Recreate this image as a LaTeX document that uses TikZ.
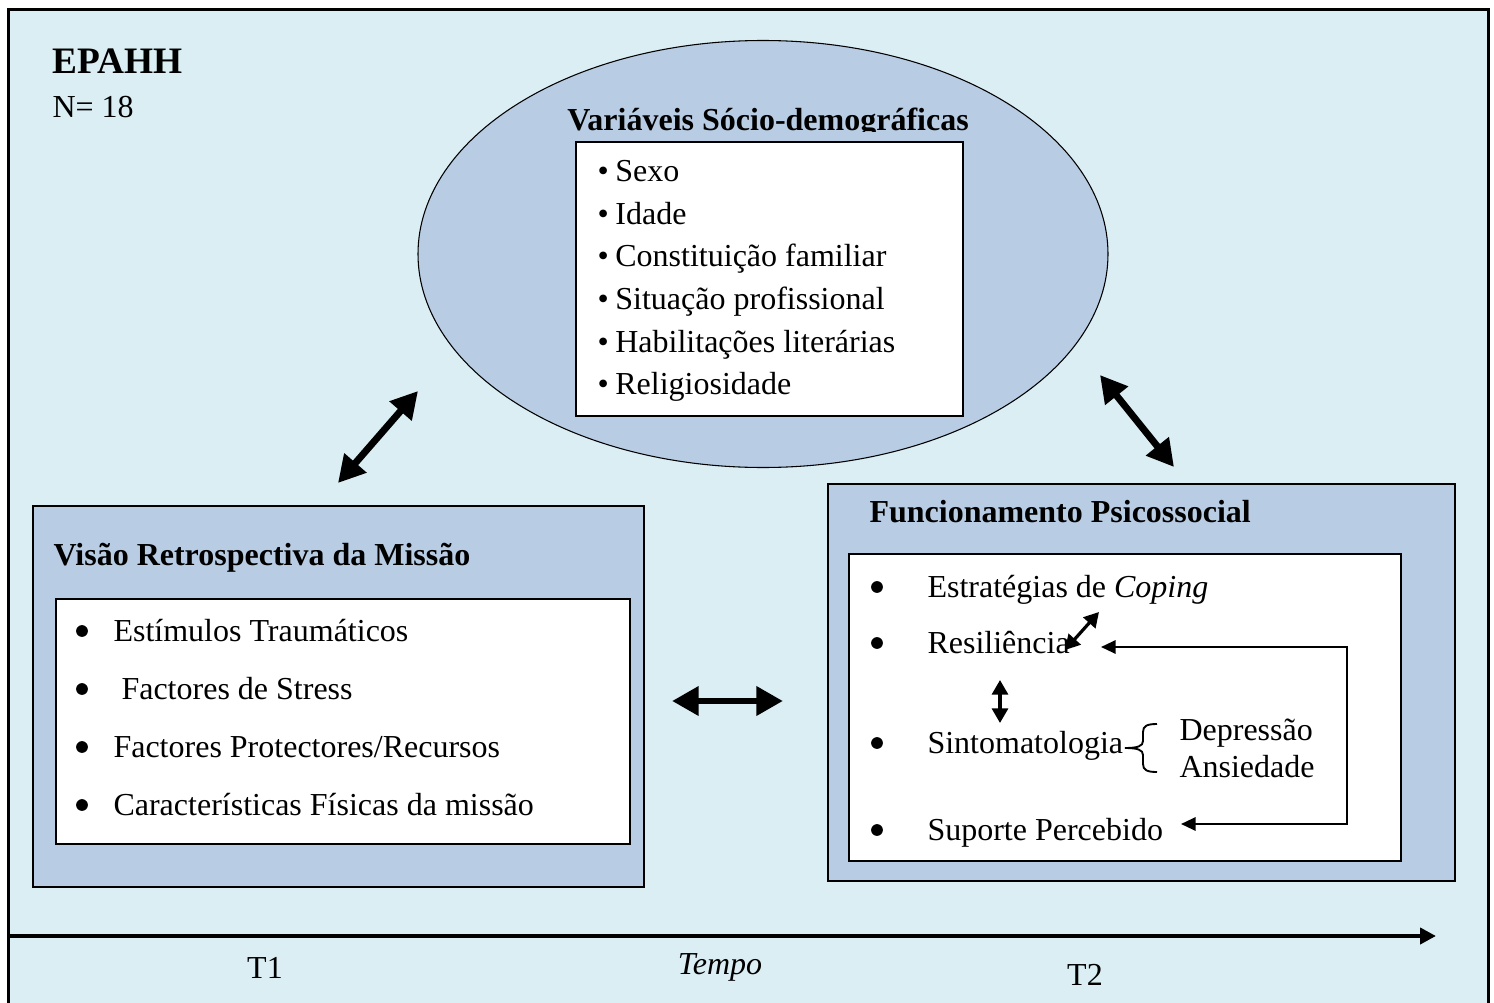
\documentclass[tikz,border=0pt]{standalone}
\usepackage{fontspec}
\setmainfont{Liberation Serif}
\usetikzlibrary{shapes,arrows.meta}

\definecolor{paleaqua}{HTML}{DAEEF3}
\definecolor{paleblue}{HTML}{B8CCE4}
\newcommand{\pxu}{0.375pt}

\tikzset{
  panel/.style={draw, line width=0.8pt, fill=paleblue, anchor=north west, inner sep=0pt},
  listbox/.style={draw, line width=0.8pt, fill=white, anchor=north west, inner sep=0pt},
  txt/.style={anchor=base west, inner sep=0pt, font=\fontsize{12}{14}\selectfont},
  head/.style={txt, font=\fontsize{12}{14}\selectfont\bfseries},
  dot/.style={circle, fill=black, inner sep=0pt, minimum size=4.4pt},
  bigarrow/.style={line width=2.6pt, {Triangle[length=10pt,width=10.5pt]}-{Triangle[length=10pt,width=10.5pt]}},
  smallarrow/.style={line width=1.2pt, {Triangle[length=5.5pt,width=6pt]}-{Triangle[length=5.5pt,width=6pt]}},
  loopline/.style={line width=0.8pt, {Triangle[length=5.5pt,width=5pt]}-{Triangle[length=5.5pt,width=5pt]}},
  timeline/.style={line width=1.5pt, -{Triangle[length=6pt,width=6pt]}}
}

\begin{document}
\begin{tikzpicture}[x=\pxu, y=-\pxu]
  \clip (0,0) rectangle (1494,1003);

  % Frame
  \node[draw, line width=1pt, fill=paleaqua, anchor=north west, inner sep=0pt,
        minimum width=1480*\pxu, minimum height=1010*\pxu] (frame) at (7,8) {};
  \node[txt, font=\fontsize{14}{16}\selectfont\bfseries] (epahh) at (52,73) {EPAHH};
  \node[txt] (sample) at (52,117) {N= 18};

  % Socio-demographic variables
  \node[ellipse, draw, fill=paleblue, inner sep=0pt,
        minimum width=690*\pxu, minimum height=427*\pxu] (socio) at (763,254) {};
  \begin{scope}
    \clip (418,40) rectangle (1108,131);
    \node[head, anchor=base] (sociotitle) at (768,130) {Variáveis Sócio-demográficas};
  \end{scope}
  \node[listbox, minimum width=387*\pxu, minimum height=274*\pxu] (sociolist) at (575,141) {};
  \node[txt] (socio1) at (597,181) {\textbullet\hspace{2.5pt}Sexo};
  \node[txt] (socio2) at (597,224) {\textbullet\hspace{2.5pt}Idade};
  \node[txt] (socio3) at (597,266) {\textbullet\hspace{2.5pt}Constituição familiar};
  \node[txt] (socio4) at (597,309) {\textbullet\hspace{2.5pt}Situação profissional};
  \node[txt] (socio5) at (597,352) {\textbullet\hspace{2.5pt}Habilitações literárias};
  \node[txt] (socio6) at (597,394) {\textbullet\hspace{2.5pt}Religiosidade};

  % Retrospective view
  \node[panel, minimum width=611*\pxu, minimum height=381*\pxu] (visao) at (32,505) {};
  \node[head] (visaotitle) at (53,565) {Visão Retrospectiva da Missão};
  \node[listbox, minimum width=574*\pxu, minimum height=245*\pxu] (visaolist) at (55,598) {};
  \node[dot] (visaob1) at (82,631) {};
  \node[txt] (visao1) at (113,641) {Estímulos Traumáticos};
  \node[dot] (visaob2) at (82,689) {};
  \node[txt] (visao2) at (121,699) {Factores de Stress};
  \node[dot] (visaob3) at (82,747) {};
  \node[txt] (visao3) at (113,757) {Factores Protectores/Recursos};
  \node[dot] (visaob4) at (82,805) {};
  \node[txt] (visao4) at (113,815) {Características Físicas da missão};

  % Psychosocial functioning
  \node[panel, minimum width=627*\pxu, minimum height=397*\pxu] (func) at (827,483) {};
  \node[head] (functitle) at (869,522) {Funcionamento Psicossocial};
  \node[listbox, minimum width=552*\pxu, minimum height=307*\pxu] (funclist) at (848,553) {};
  \node[dot] (funcb1) at (877,587) {};
  \node[txt] (func1) at (927,597) {Estratégias de \textit{Coping}};
  \node[dot] (funcb2) at (877,643) {};
  \node[txt] (func2) at (927,653) {Resiliência};
  \node[dot] (funcb3) at (877,743) {};
  \node[txt] (func3) at (927,753) {Sintomatologia};
  \node[dot] (funcb4) at (877,830) {};
  \node[txt] (func4) at (927,840) {Suporte Percebido};
  \node[txt] (depr) at (1179,740) {Depressão};
  \node[txt] (ansi) at (1179,777) {Ansiedade};

  % Brace
  \draw[line width=0.7pt] (1157,724) .. controls (1147,724) and (1143,726) .. (1143,732)
    -- (1143,741) .. controls (1143,746) and (1138,748) .. (1125,748)
    .. controls (1138,748) and (1143,750) .. (1143,755)
    -- (1143,764) .. controls (1143,770) and (1147,772) .. (1157,772);

  % Arrows
  \coordinate (la1) at (338,483);
  \coordinate (la2) at (418,391);
  \coordinate (ra1) at (1100,375);
  \coordinate (ra2) at (1174,467);
  \coordinate (ha1) at (672,701);
  \coordinate (ha2) at (783,701);
  \draw[bigarrow] (la1) -- (la2);
  \draw[bigarrow] (ra1) -- (ra2);
  \draw[bigarrow] (ha1) -- (ha2);

  \coordinate (cp1) at (1065,650);
  \coordinate (cp2) at (1099,612);
  \coordinate (vs1) at (1000,680);
  \coordinate (vs2) at (1000,723);
  \draw[smallarrow] (cp1) -- (cp2);
  \draw[smallarrow] (vs1) -- (vs2);

  \coordinate (resin) at (1101,647);
  \coordinate (loopc) at (1347,647);
  \coordinate (supin) at (1181,824);
  \draw[loopline] (resin) -- (loopc) |- (supin);

  % Time axis
  \coordinate (t0) at (7,936);
  \coordinate (t1) at (1436,936);
  \draw[timeline] (t0) -- (t1);
  \node[txt, anchor=base] (time1) at (265,978) {T1};
  \node[txt, anchor=base] (tempo) at (720,974) {\textit{Tempo}};
  \node[txt, anchor=base] (time2) at (1085,985) {T2};
\end{tikzpicture}
\end{document}
